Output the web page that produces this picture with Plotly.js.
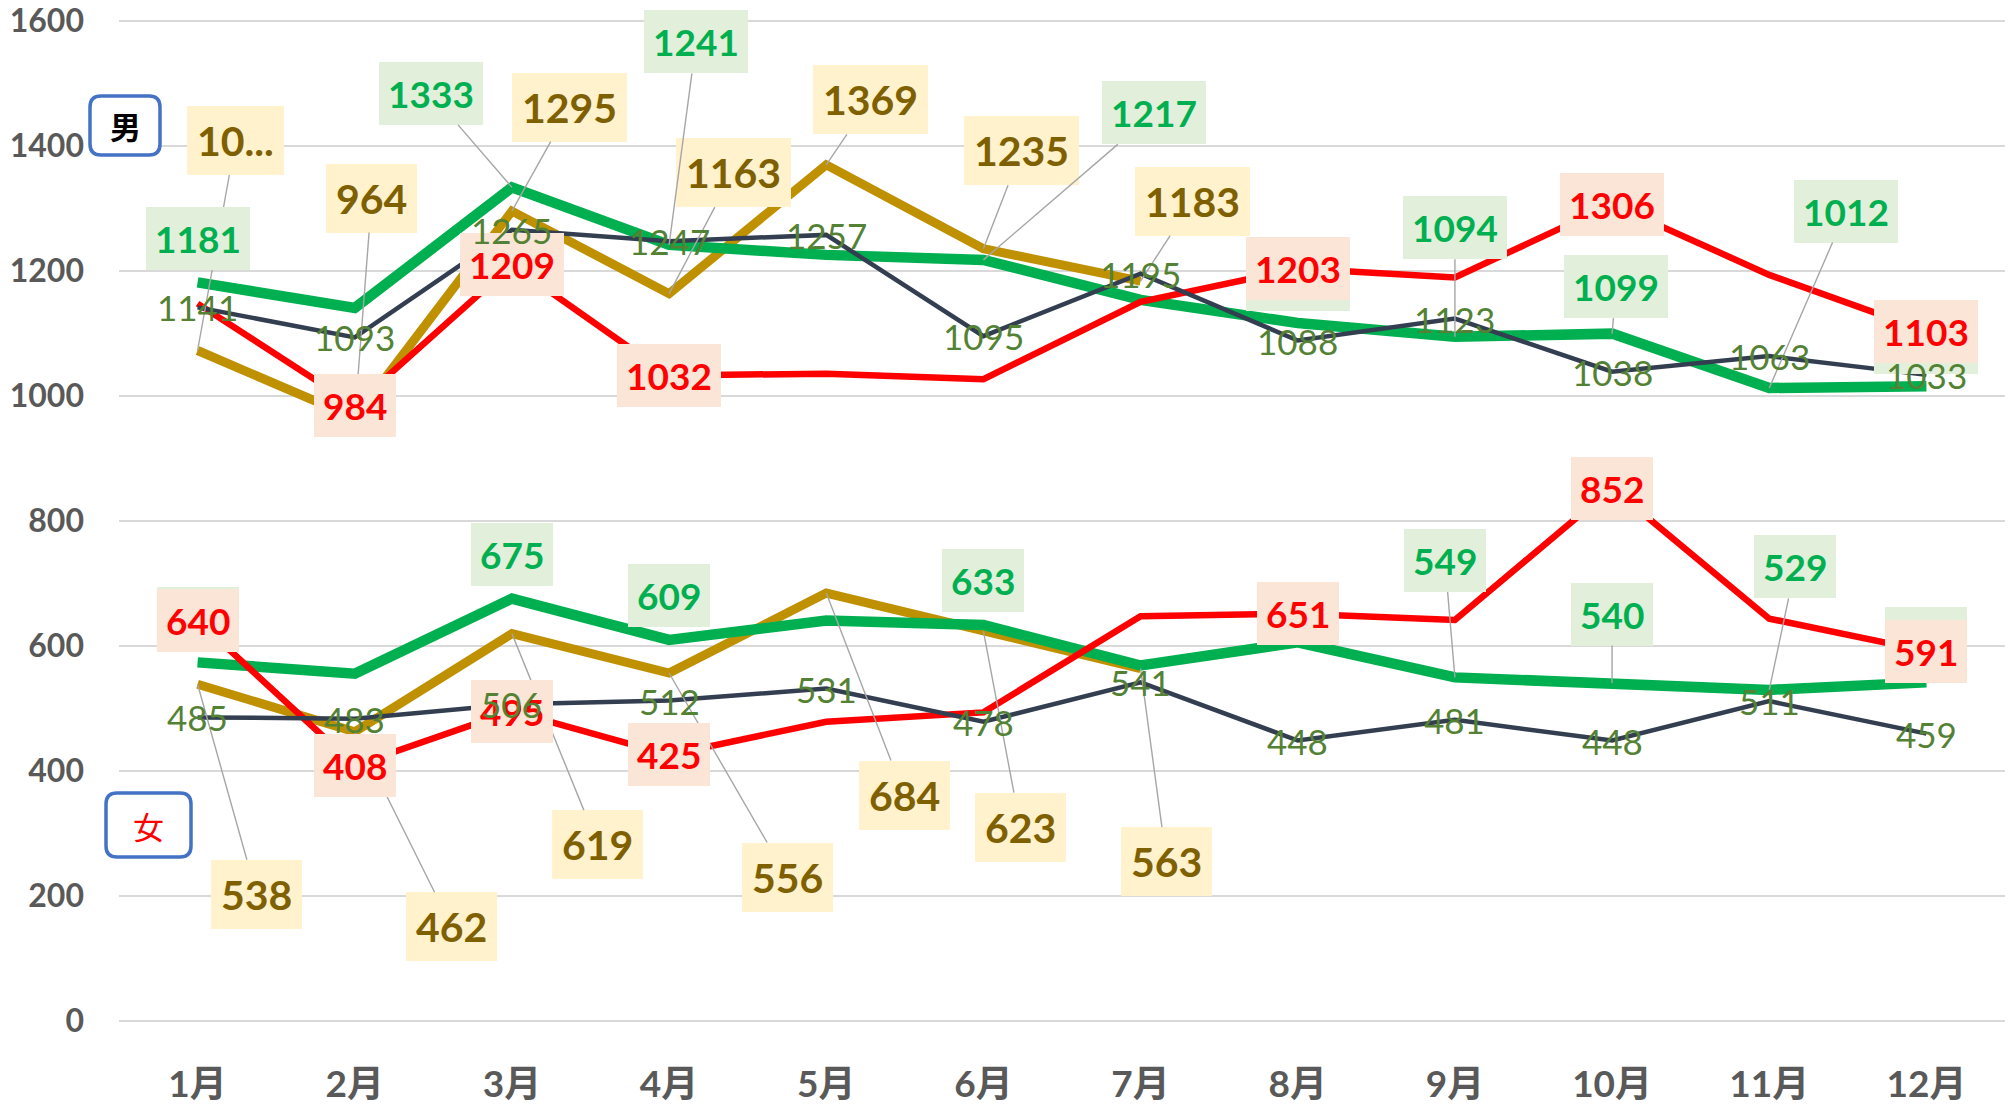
<!DOCTYPE html>
<html><head><meta charset="utf-8">
<script src="https://cdn.plot.ly/plotly-3.0.1.min.js"></script>
<style>html,body{margin:0;padding:0;background:#fff}#chart{width:2011px;height:1105px}</style>
</head><body><div id="chart"></div>
<script>
// ---- data ----
const months = ['1月','2月','3月','4月','5月','6月','7月','8月','9月','10月','11月','12月'];
const maleRed    = [1147, 984, 1209, 1032, 1035, 1026, 1150, 1203, 1189, 1306, 1193, 1103];
const maleGreen  = [1181, 1140, 1333, 1241, 1225, 1217, 1153, 1116, 1094, 1099, 1012, 1015];
const maleNavy   = [1141, 1093, 1265, 1247, 1257, 1095, 1195, 1088, 1123, 1038, 1063, 1033];
const maleGold   = [1072, 964, 1295, 1163, 1369, 1235, 1183];
const femaleRed   = [640, 408, 495, 425, 478, 493, 647, 651, 641, 852, 643, 591];
const femaleGreen = [573, 555, 675, 609, 640, 633, 568, 605, 549, 540, 529, 541];
const femaleNavy  = [485, 483, 506, 512, 531, 478, 541, 448, 481, 448, 511, 459];
const femaleGold  = [538, 462, 619, 556, 684, 623, 563];
const yTicks = [0, 200, 400, 600, 800, 1000, 1200, 1400, 1600];
const groupMale = '男';
const groupFemale = '女';
const maleGoldFirstText = '10...';

// ---- label placement (pixel offsets; 'c' = centred on point; null = none) ----
const C = 'c';
const labMaleGold   = [[38,-210,1],[17,-220,1],[58,-104,1],[64,-121,1],[44,-65,1],[38,-98,1],[52,-80,1]];
const labMaleGreen  = [[0,-44,0],null,[-81,-94,1],[27,-203,1],null,[171,-147,1],null,[0,-44,0],[0,-109,1],[4,-47,1],[77,-177,1],[0,-44,0]];
const labMaleRed    = [null,C,C,C,null,null,null,C,null,C,null,C];
const labMaleNavy   = [C,C,C,C,C,C,C,C,C,C,C,C];
const labFemaleGold = [[59,210,1],[97,195,1],[86,211,1],[118,204,1],[78,202,1],[37,196,1],[26,193,1]];
const labFemaleGreen= [[0,-44,0],null,[0,-44,0],[0,-44,0],null,[0,-44,0],null,null,[-10,-117,1],[0,-69,1],[26,-123,1],[0,-44,0]];
const labFemaleRed  = [C,C,C,C,null,null,null,C,null,C,null,C];
const labFemaleNavy = [C,C,C,C,C,C,C,C,C,C,C,C];

// ---- styles ----
const FONT = 'Lato, "Noto Sans CJK JP", sans-serif';
const ST = {
  red:   {line:'#FF0000', width:6.5, text:'#FF0000', bg:'#FBE5D6', size:37, weight:'bold', pad:9},
  green: {line:'#00B050', width:10.5, text:'#00B050', bg:'#E2EFDA', size:37, weight:'bold', pad:9},
  navy:  {line:'#333F50', width:4.5, text:'#548235', bg:'rgba(0,0,0,0)', size:35, weight:'normal', pad:0},
  gold:  {line:'#BF9000', width:9, text:'#7F6000', bg:'#FFF2CC', size:41, weight:'bold', pad:10}
};

const W=2011, H=1105, ML=119, MR=6, MT=18, MB=82;
const PW=W-ML-MR, PH=H-MT-MB;

function trace(vals, st){
  return {type:'scatter', mode:'lines', x: months.slice(0, vals.length), y: vals,
    line:{color:ST[st].line, width:ST[st].width, shape:'linear'}, hoverinfo:'skip', showlegend:false};
}
const traces = [
  trace(maleGold,'gold'), trace(maleGreen,'green'), trace(maleRed,'red'), trace(maleNavy,'navy'),
  trace(femaleGold,'gold'), trace(femaleGreen,'green'), trace(femaleRed,'red'), trace(femaleNavy,'navy')
];

function labels(vals, labs, st, override){
  const s = ST[st], out = [];
  vals.forEach((v,i)=>{
    const L = labs[i];
    if(L==null) return;
    const text = (override && override[i]!=null) ? override[i] : String(v);
    const a = {x: i, y: v, xref:'x', yref:'y', text: text,
      font:{family:FONT, size:s.size, color:s.text, weight:s.weight},
      bgcolor:s.bg, borderpad:s.pad, borderwidth:0, xanchor:'center', yanchor:'middle'};
    if(L===C){ a.showarrow=false; }
    else if(L[2]===0){ a.showarrow=false; a.xshift=L[0]; a.yshift=-L[1]; }
    else { a.showarrow=true; a.ax=L[0]; a.ay=L[1]; a.axref='pixel'; a.ayref='pixel';
      a.arrowhead=0; a.arrowwidth=1.4; a.arrowcolor='#A6A6A6'; a.standoff=0; a.startstandoff=0; }
    out.push(a);
  });
  return out;
}

const annotations = [].concat(
  labels(maleGold, labMaleGold, 'gold', [maleGoldFirstText]),
  labels(femaleGold, labFemaleGold, 'gold'),
  labels(maleGreen, labMaleGreen, 'green'),
  labels(femaleGreen, labFemaleGreen, 'green'),
  labels(maleRed, labMaleRed, 'red'),
  labels(femaleRed, labFemaleRed, 'red'),
  labels(maleNavy, labMaleNavy, 'navy'),
  labels(femaleNavy, labFemaleNavy, 'navy')
);

// group markers (boxes in pixel space converted to paper)
function px(x){ return (x-ML)/PW; }
function py(y){ return (H-MB-y)/PH; }
function rrect(x0,y0,x1,y1,r){
  const P=(x,y)=>px(x).toFixed(5)+','+py(y).toFixed(5);
  return 'M'+P(x0+r,y0)+' L'+P(x1-r,y0)+' Q'+P(x1,y0)+' '+P(x1,y0+r)+' L'+P(x1,y1-r)+' Q'+P(x1,y1)+' '+P(x1-r,y1)+
    ' L'+P(x0+r,y1)+' Q'+P(x0,y1)+' '+P(x0,y1-r)+' L'+P(x0,y0+r)+' Q'+P(x0,y0)+' '+P(x0+r,y0)+' Z';
}
const boxes = [
  {b:[90,96,160,155], text:groupMale, color:'#000000', weight:'bold'},
  {b:[106,793,191,857], text:groupFemale, color:'#FF0000', weight:'normal'}
];
const shapes = boxes.map(o=>({type:'path', xref:'paper', yref:'paper', layer:'above',
  path: rrect(o.b[0],o.b[1],o.b[2],o.b[3],11), fillcolor:'#FFFFFF', line:{color:'#4472C4', width:3.5}}));
boxes.forEach(o=>{
  annotations.push({xref:'paper', yref:'paper', x:px((o.b[0]+o.b[2])/2), y:py((o.b[1]+o.b[3])/2),
    text:o.text, showarrow:false, xanchor:'center', yanchor:'middle',
    font:{family:'"Noto Sans CJK JP", sans-serif', size:31, color:o.color, weight:o.weight}});
});

const layout = {
  width:W, height:H, margin:{l:ML, r:MR, t:MT, b:MB, pad:0},
  paper_bgcolor:'#FFFFFF', plot_bgcolor:'#FFFFFF', showlegend:false,
  xaxis:{type:'category', categoryarray:months, range:[-0.5, 11.5], autorange:false, showgrid:false, zeroline:false, showline:false, ticks:'',
    tickfont:{family:FONT, size:37, color:'#595959', weight:'bold'}, ticklabelstandoff:36, ticklabeloverflow:'allow', fixedrange:true},
  yaxis:{range:[-4,1604], autorange:false, tickvals:yTicks, ticktext:yTicks.map(String), showgrid:true, gridcolor:'#D9D9D9', gridwidth:2,
    zeroline:false, showline:false, ticks:'', tickfont:{family:FONT, size:32, color:'#595959', weight:'bold'},
    ticklabelstandoff:34, ticklabeloverflow:'allow', fixedrange:true},
  annotations: annotations, shapes: shapes
};
Plotly.newPlot('chart', traces, layout, {displayModeBar:false, staticPlot:true});
</script></body></html>
